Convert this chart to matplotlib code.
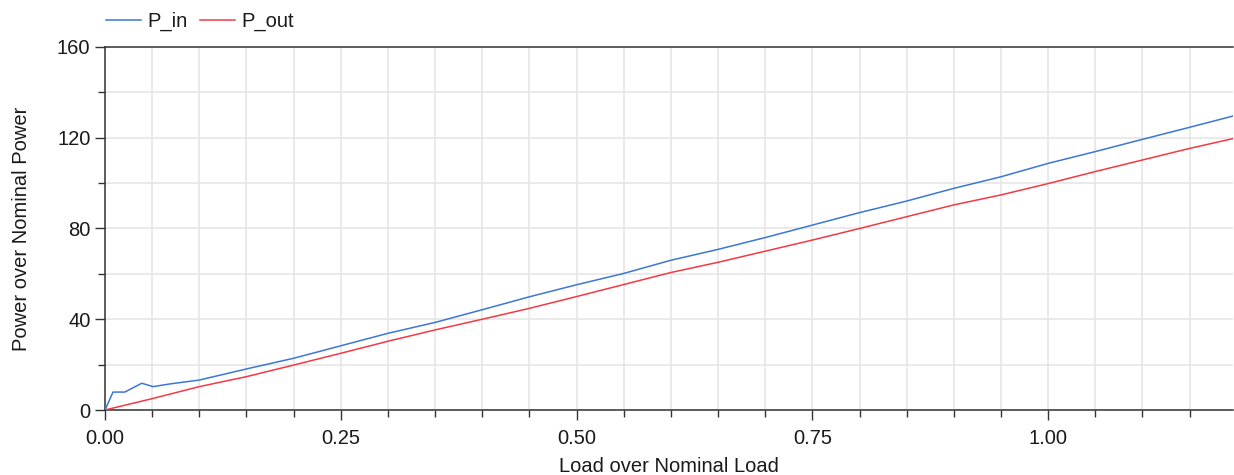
import matplotlib
matplotlib.use("Agg")
import matplotlib.pyplot as plt
from matplotlib.ticker import MultipleLocator, FormatStrFormatter

plt.rcParams['font.family'] = ['Liberation Sans', 'DejaVu Sans']

# Input power over nominal power vs. load
load_in = [0.0, 0.0085, 0.021, 0.039, 0.051, 0.069, 0.10, 0.15, 0.20, 0.25,
           0.30, 0.35, 0.40, 0.45, 0.50, 0.55, 0.60, 0.65, 0.70, 0.75,
           0.80, 0.85, 0.90, 0.95, 1.00, 1.05, 1.10, 1.15, 1.20]
p_in = [0.0, 7.9, 7.9, 11.8, 10.3, 11.5, 13.2, 18.1, 22.8, 28.3,
        33.8, 38.6, 44.2, 49.9, 55.2, 60.2, 66.0, 70.8, 76.0, 81.5,
        87.0, 92.1, 97.7, 102.8, 108.7, 113.9, 119.3, 124.6, 130.0]

# Output power over nominal power vs. load
load_out = [0.0, 0.05, 0.10, 0.15, 0.20, 0.25, 0.30, 0.35, 0.40, 0.45,
            0.50, 0.55, 0.60, 0.65, 0.70, 0.75, 0.80, 0.85, 0.90, 0.95,
            1.00, 1.05, 1.10, 1.15, 1.20]
p_out = [0.0, 5.0, 10.3, 14.7, 19.8, 25.0, 30.3, 35.3, 40.0, 44.8,
         50.0, 55.3, 60.6, 65.1, 70.0, 74.9, 80.0, 85.2, 90.4, 94.8,
         99.8, 105.1, 110.2, 115.3, 120.0]

x_ticks = [0.0, 0.25, 0.5, 0.75, 1.0]
y_ticks = [0, 40, 80, 120, 160]

W, H = 1234, 475
fig = plt.figure(figsize=(W / 100, H / 100), dpi=100)
ax = fig.add_axes([105 / W, (H - 410) / H, (1233 - 105) / W, (410 - 47) / H])

text_color = '#1a1a1a'
spine_color = '#333333'
grid_color = '#e6e6e6'

ax.plot(load_in, p_in, color='#3a78d4', lw=1.1, label='P_in', zorder=3)
ax.plot(load_out, p_out, color='#f23a44', lw=1.1, label='P_out', zorder=3)

ax.set_xlim(0, 1.196)
ax.set_ylim(0, 160)
ax.set_xticks(x_ticks)
ax.set_yticks(y_ticks)
ax.xaxis.set_minor_locator(MultipleLocator(0.05))
ax.yaxis.set_minor_locator(MultipleLocator(20))
ax.xaxis.set_major_formatter(FormatStrFormatter('%.2f'))

ax.grid(True, which='both', color=grid_color, lw=1.2, zorder=0)
ax.set_axisbelow(True)

ax.tick_params(axis='both', which='major', length=7.5, width=1.0, color=spine_color,
               labelsize=14.5, labelcolor=text_color)
ax.tick_params(axis='both', which='minor', length=5, width=1.0, color=spine_color)
ax.tick_params(axis='y', which='major', pad=3)
ax.tick_params(axis='x', which='major', pad=6)

for side in ['left', 'bottom', 'top']:
    ax.spines[side].set_color(spine_color)
    ax.spines[side].set_linewidth(1.1)
ax.spines['right'].set_visible(False)

ax.set_xlabel('Load over Nominal Load', fontsize=14.5, color=text_color, labelpad=7)
ax.set_ylabel('Power over Nominal Power', fontsize=14.5, color=text_color, labelpad=19)

fig.legend(loc='upper left', bbox_to_anchor=(92 / W, 1.0 + 2 / H), ncol=2, frameon=False,
           fontsize=14.5, handlelength=1.75, handletextpad=0.3, columnspacing=0.6,
           borderaxespad=0.3, labelcolor=text_color)

fig.savefig('out.png', dpi=100, facecolor='white')
